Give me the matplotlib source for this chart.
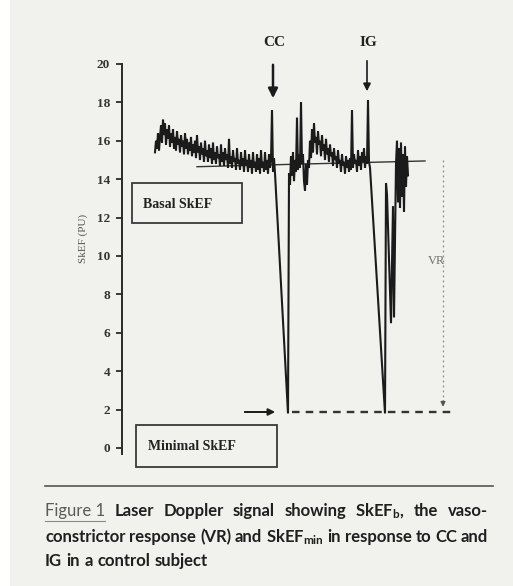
import matplotlib
matplotlib.use("Agg")
import matplotlib.pyplot as plt
from matplotlib.patches import Rectangle
from matplotlib.lines import Line2D

# ---------------- data ----------------
# time axis in arbitrary units (no scale shown in the original)
# pre-CC baseline segment, one sample per time unit from t=155 to t=271
segA_t = list(range(155, 272))
segA_skef = [15.4, 16.0, 15.6, 16.4, 15.5, 16.2, 16.8, 15.9, 17.1, 16.3, 16.9, 15.8,
             16.6, 16.1, 16.8, 15.7, 16.4, 15.9, 16.6, 15.6, 16.2, 15.5, 16.5, 15.8,
             16.1, 15.4, 16.3, 15.7, 16.0, 15.3, 16.4, 15.6, 16.1, 15.3, 15.9, 15.5,
             16.2, 15.2, 15.8, 15.4, 16.0, 15.1, 16.3, 15.4, 15.7, 15.0, 15.9, 15.3,
             15.6, 14.9, 16.0, 15.2, 15.5, 14.9, 15.8, 15.1, 15.6, 14.8, 15.9, 15.0,
             15.4, 14.8, 15.7, 15.1, 15.3, 14.7, 15.8, 14.9, 15.4, 14.7, 15.6, 15.0,
             15.3, 14.6, 16.1, 14.8, 15.2, 14.6, 15.5, 14.9, 15.1, 14.5, 15.6, 14.8,
             15.0, 14.5, 15.4, 14.7, 15.1, 14.4, 15.5, 14.7, 15.0, 14.4, 15.3, 14.6,
             15.0, 14.3, 15.4, 14.6, 14.9, 14.4, 15.3, 14.5, 15.1, 14.3, 15.5, 14.6,
             14.9, 14.4, 15.4, 14.5, 15.0, 14.3, 15.3, 14.6, 15.0]
# CC response, recovery, IG response
segB_t = [272, 273, 274, 275, 288, 289, 290, 291, 292, 293, 294, 295, 296, 297,
          298, 299, 300, 301, 302, 303, 304, 305, 306, 307, 308, 309, 310, 311,
          312, 313, 314, 315, 316, 317, 318, 319, 320, 321, 322, 323, 324, 325,
          326, 327, 328, 329, 330, 331, 332, 333, 334, 335, 336, 337, 338, 339,
          340, 341, 342, 343, 344, 345, 346, 347, 348, 349, 350, 351, 352, 353,
          354, 355, 356, 357, 358, 359, 360, 361, 362, 363, 364, 365, 366, 367,
          368, 369, 370, 385, 386, 387, 391, 393, 394, 396, 397, 398, 399, 400,
          401, 402, 403, 404, 405, 406, 407, 408]
segB_skef = [17.6, 14.4, 15.1, 14.3, 1.8, 14.3, 13.7, 15.2, 14.2, 15.4, 13.9, 15.0, 14.4, 17.2,
             14.5, 15.3, 14.6, 18.0, 14.8, 15.3, 13.9, 13.4, 14.8, 13.7, 15.0, 14.6, 16.0, 15.1,
             16.6, 15.4, 16.9, 15.9, 16.2, 15.3, 16.5, 15.8, 16.0, 15.2, 16.3, 15.5, 15.8, 15.0,
             16.1, 15.3, 15.6, 14.9, 15.8, 15.2, 15.4, 14.7, 15.6, 15.0, 15.2, 14.6, 15.5, 14.8,
             15.0, 14.4, 15.3, 14.7, 14.9, 14.3, 15.2, 14.6, 15.0, 14.4, 15.1, 14.5, 17.6, 14.6,
             15.3, 14.8, 15.0, 14.4, 15.5, 14.7, 15.2, 14.5, 15.4, 14.9, 15.6, 14.6, 15.2, 14.8,
             18.1, 14.9, 14.6, 1.8, 13.8, 13.2, 6.5, 12.6, 6.8, 14.8, 16.0, 12.8, 15.6, 12.5,
             15.9, 13.1, 15.3, 12.3, 15.7, 13.6, 15.2, 14.2]
trace_t = segA_t + segB_t
trace_skef = segA_skef + segB_skef

basal_t = [197, 425]
basal_skef = [14.65, 14.95]
min_t = [292, 455]
min_skef = [1.85, 1.85]
vr_t = 443
vr_top, vr_bottom = 15.0, 2.0
cc_t, ig_t = 273, 367

yticks = [0, 2, 4, 6, 8, 10, 12, 14, 16, 18, 20]

# ---------------- figure ----------------
W, H = 513, 586
BG = "#f1f1ee"
INK = "#1b1b1b"
fig = plt.figure(figsize=(W / 100, H / 100), dpi=100, facecolor=BG)


def fx(px):
    return px / W


def fy(py):
    return 1 - py / H


fig.patches.append(Rectangle((0, 0), fx(10), 1, transform=fig.transFigure,
                             facecolor="white", edgecolor="none", zorder=0))

# axes: left spine at x=122px, 20 at y=64px, 0 at y=448px
ax_left, ax_right = 122, 470
y_top_px, y0_px = 64, 448
ppu = (y0_px - y_top_px) / 20.0
ymin = -0.3
ax_bottom_px = y0_px - ymin * ppu
ax = fig.add_axes([fx(ax_left), fy(ax_bottom_px), fx(ax_right - ax_left),
                   (ax_bottom_px - y_top_px) / H])
ax.set_facecolor("none")
ax.set_xlim(ax_left, ax_right)
ax.set_ylim(ymin, 20)
for s in ["top", "right", "bottom"]:
    ax.spines[s].set_visible(False)
ax.spines["left"].set_linewidth(1.4)
ax.spines["left"].set_color("#2a2a2a")
ax.set_xticks([])
ax.set_yticks(yticks)
ax.set_yticklabels([str(v) for v in yticks])
ax.tick_params(axis="y", direction="out", length=4, width=1.3, pad=4.5,
               colors="#2a2a2a", labelsize=9.5)
for lab in ax.get_yticklabels():
    lab.set_fontfamily("Liberation Serif")
    lab.set_fontweight("bold")
    lab.set_color("#333333")

# signal trace
ax.plot(trace_t, trace_skef, color=INK, lw=1.5, solid_joinstyle="miter", zorder=3)
# basal reference line
ax.plot(basal_t, basal_skef, color="#333333", lw=1.0, zorder=2)
# minimal level dashed line
ax.plot(min_t, min_skef, color="#333333", lw=1.7, ls=(0, (3.2, 2.6)), zorder=2,
        clip_on=False)
# VR dotted vertical line with arrowhead
ax.plot([vr_t, vr_t], [vr_top, vr_bottom + 0.35], color="#8a8a8a", lw=0.9,
        ls=(0, (1.5, 2.5)), zorder=2)
ax.annotate("", xy=(vr_t, vr_bottom), xytext=(vr_t, vr_bottom + 0.6),
            arrowprops=dict(arrowstyle="-|>", color="#555555", lw=0.9,
                            mutation_scale=7), annotation_clip=False)
ax.text(vr_t - 6, 9.75, "VR", fontsize=9, family="Liberation Serif",
        color="#6f6f6f", ha="center", va="center")

# CC / IG arrows & labels
for t, lab, y0, y1, lw, ms in [(cc_t, "CC", 62, 101, 1.8, 14), (ig_t, "IG", 58, 94, 1.2, 11)]:
    ax.annotate("", xy=(t, (y0_px - y1) / ppu), xytext=(t, (y0_px - y0) / ppu),
                arrowprops=dict(arrowstyle="-|>", color=INK, lw=lw, mutation_scale=ms),
                annotation_clip=False)
    fig.text(fx(t + 1), fy(42), lab, fontsize=11, family="Liberation Serif",
             fontweight="bold", color="#222222", ha="center", va="center")

# minimal arrow
fig.add_artist(Line2D([fx(245), fx(268)], [fy(412), fy(412)], color=INK, lw=1.4))
ax.annotate("", xy=(278, (y0_px - 412) / ppu), xytext=(262, (y0_px - 412) / ppu),
            arrowprops=dict(arrowstyle="-|>", color=INK, lw=1.4, mutation_scale=10),
            annotation_clip=False)

# annotation boxes
for (x0, y0b, x1, y1b), txt, tx in [((132, 183, 242, 223), "Basal SkEF", 143),
                                    ((136, 425, 277, 467), "Minimal SkEF", 148)]:
    fig.patches.append(Rectangle((fx(x0), fy(y1b)), fx(x1 - x0), (y1b - y0b) / H,
                                 transform=fig.transFigure, facecolor="none",
                                 edgecolor="#3a3a3a", lw=1.3, zorder=5))
    fig.text(fx(tx), fy((y0b + y1b) / 2 + 1), txt, fontsize=10,
             family="Liberation Serif", fontweight="bold", color="#222222",
             ha="left", va="center")

# y label
fig.text(fx(83), fy(238), "SkEF (PU)", rotation=90, fontsize=8,
         family="Liberation Serif", color="#555555", ha="center", va="center")

# ---------------- caption ----------------
plt.rcParams["mathtext.fontset"] = "custom"
plt.rcParams["mathtext.rm"] = "Lato"
plt.rcParams["mathtext.bf"] = "Lato:bold"
plt.rcParams["mathtext.it"] = "Lato:italic"

fig.add_artist(Line2D([fx(45), fx(493)], [fy(486), fy(486)], color="#555555", lw=1.2))

CAP_FS = 12
CAP_COL = "#1f1f1f"
renderer = fig.canvas.get_renderer()


def draw_line(tokens, y_px, x_left=45, x_right=None):
    texts = []
    for word, weight in tokens:
        t = fig.text(0, fy(y_px), word, fontsize=CAP_FS, family="Lato",
                     fontweight=weight, color=CAP_COL, ha="left", va="center")
        texts.append(t)
    widths = [t.get_window_extent(renderer).width for t in texts]
    if x_right is None or len(texts) < 2:
        space = 4.5
    else:
        space = (x_right - x_left - sum(widths)) / (len(texts) - 1)
    x = x_left
    for t, w in zip(texts, widths):
        t.set_x(fx(x))
        x += w + space
    return texts, widths


line1 = [("Figure 1", "normal"), ("Laser", "bold"), ("Doppler", "bold"),
         ("signal", "bold"), ("showing", "bold"), (r"SkEF$_{\mathbf{b}}$,", "bold"),
         ("the", "bold"), ("vaso-", "bold")]
line2 = [("constrictor", "bold"), ("response", "bold"), ("(VR)", "bold"),
         ("and", "bold"), (r"SkEF$_{\mathbf{min}}$", "bold"), ("in", "bold"),
         ("response", "bold"), ("to", "bold"), ("CC", "bold"), ("and", "bold")]
line3 = [("IG", "bold"), ("in", "bold"), ("a", "bold"), ("control", "bold"),
         ("subject", "bold")]

t1, w1 = draw_line(line1, 511, 45, 488)
t1[0].set_color("#5a5a5a")
fig.add_artist(Line2D([fx(45), fx(45 + w1[0])], [fy(521), fy(521)],
                      color="#888888", lw=0.8))
draw_line(line2, 537, 45, 488)
draw_line(line3, 561, 45, None)

fig.savefig("out.png", dpi=100, facecolor=BG)
